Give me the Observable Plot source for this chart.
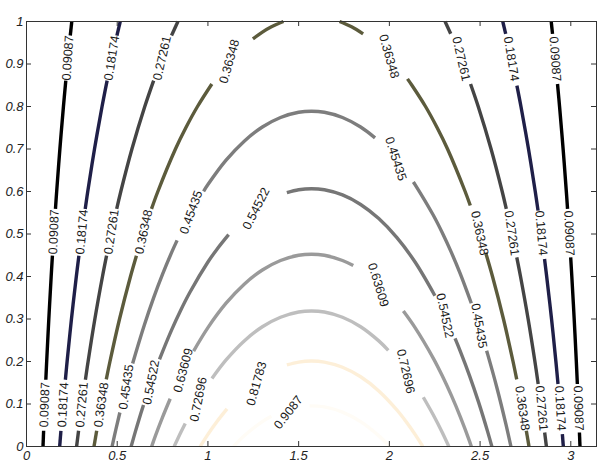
<!DOCTYPE html>
<html><head><meta charset="utf-8">
<script src="https://cdn.jsdelivr.net/npm/d3@7"></script>
<script src="https://cdn.jsdelivr.net/npm/@observablehq/plot@0.6"></script>
<style>html,body{margin:0;padding:0;background:#fff;} svg{display:block}</style>
</head><body><div id="chart"></div>
<script>
// Contour levels (as printed on the chart)
const levelText = ["0.09087","0.18174","0.27261","0.36348","0.45435","0.54522","0.63609","0.72696","0.81783","0.9087"];

// Contour pieces, [x, y] per point; each inner list is one visible piece (gaps hold labels)
const c1 = [
  [[0.0910,0],[0.0944,0.037]],
  [[0.1065,0.157],[0.1112,0.2],[0.1230,0.3],[0.1360,0.4],[0.1429,0.449]],
  [[0.1596,0.559],[0.1663,0.6],[0.1840,0.7],[0.2036,0.8],[0.2166,0.861]],
  [[0.2413,0.967],[0.2496,1]],
  [[2.8920,1],[2.8993,0.971]],
  [[2.9267,0.853],[2.9380,0.8],[2.9576,0.7],[2.9753,0.6],[2.9820,0.559]],
  [[2.9993,0.445],[3.0056,0.4],[3.0186,0.3],[3.0304,0.2],[3.0361,0.147]],
  [[3.0475,0.033],[3.0506,0]]
];
const c2 = [
  [[0.1828,0],[0.1897,0.037]],
  [[0.2143,0.157],[0.2238,0.2],[0.2478,0.3],[0.2746,0.4],[0.2888,0.449]],
  [[0.3236,0.559],[0.3376,0.6],[0.3748,0.7],[0.4164,0.8],[0.4443,0.861]],
  [[0.4983,0.967],[0.5166,1]],
  [[2.6250,1],[2.6411,0.971]],
  [[2.7029,0.849],[2.7252,0.8],[2.7668,0.7],[2.8040,0.6],[2.8194,0.555]],
  [[2.8552,0.441],[2.8670,0.4],[2.8938,0.3],[2.9178,0.2],[2.9295,0.147]],
  [[2.9534,0.029],[2.9588,0]]
];
const c3 = [
  [[0.2761,0],[0.2868,0.037]],
  [[0.3247,0.157],[0.3395,0.2],[0.3768,0.3],[0.4188,0.4],[0.4413,0.449]],
  [[0.4971,0.559],[0.5198,0.6],[0.5811,0.7],[0.6519,0.8],[0.7008,0.861]],
  [[0.7994,0.967],[0.8346,1]],
  [[2.3070,1],[2.3380,0.971]],
  [[2.4474,0.853],[2.4897,0.8],[2.5605,0.7],[2.6218,0.6],[2.6445,0.559]],
  [[2.7022,0.445],[2.7228,0.4],[2.7648,0.3],[2.8021,0.2],[2.8202,0.147]],
  [[2.8560,0.033],[2.8655,0]]
];
const c4 = [
  [[0.3720,0],[0.3868,0.037]],
  [[0.4397,0.158],[0.4600,0.2],[0.5128,0.3],[0.5731,0.4],[0.6059,0.449]],
  [[0.6890,0.559],[0.7240,0.6],[0.8210,0.7],[0.8781,0.75],[0.9424,0.8],[1.0215,0.853]],
  [[1.2480,0.959],[1.3,0.9749],[1.35,0.9874],[1.4161,1]],
  [[1.7255,1],[1.7916,0.9874],[1.8552,0.971]],
  [[2.0998,0.865],[2.1241,0.85],[2.1992,0.8],[2.2635,0.75],[2.3206,0.7],[2.4176,0.6],[2.4460,0.567]],
  [[2.5308,0.456],[2.5685,0.4],[2.6288,0.3],[2.6816,0.2],[2.7019,0.158]],
  [[2.7548,0.037],[2.7696,0]]
];
const c5 = [
  [[0.4717,0],[0.4925,0.04],[0.5146,0.08]],
  [[0.585,0.1951],[0.6,0.2173],[0.65,0.2867],[0.7,0.3492],[0.75,0.4056],[0.8,0.4567],[0.83,0.485]],
  [[0.976,0.6004],[1.0,0.6163],[1.1,0.6737],[1.2,0.7185],[1.3,0.7518],[1.4,0.7742],[1.5,0.7864],[1.5708,0.7889],[1.6416,0.7864],[1.7416,0.7742],[1.8416,0.7518],[1.921,0.7263]],
  [[2.132,0.6225],[2.1416,0.6163],[2.2416,0.5446],[2.2916,0.5029],[2.3416,0.4567],[2.3916,0.4056],[2.4516,0.3371]],
  [[2.536,0.2254],[2.5416,0.2173],[2.5916,0.1401],[2.6416,0.0537],[2.6699,0]]
];
const c6 = [
  [[0.5768,0],[0.6,0.035],[0.62,0.0636],[0.645,0.0978]],
  [[0.733,0.2049],[0.75,0.2233],[0.8,0.2744],[0.85,0.3206],[0.9,0.3623],[1.0,0.4340],[1.05,0.4643],[1.114,0.4985]],
  [[1.435,0.5974],[1.5,0.6041],[1.5708,0.6066],[1.6416,0.6041],[1.7416,0.5919],[1.8416,0.5695],[1.9416,0.5362],[2.0416,0.4914],[2.1416,0.4340],[2.251,0.3548]],
  [[2.362,0.2542],[2.3916,0.2233],[2.4416,0.1669],[2.4916,0.1044],[2.5416,0.035],[2.5648,0]]
];
const c7 = [
  [[0.6901,0],[0.7,0.0127],[0.75,0.0691],[0.792,0.1124]],
  [[0.921,0.2246],[1.0,0.2798],[1.1,0.3372],[1.2,0.3820],[1.3,0.4153],[1.4,0.4377],[1.5,0.4499],[1.5708,0.4524],[1.6416,0.4499],[1.7416,0.4377],[1.801,0.4257]],
  [[2.077,0.3188],[2.1416,0.2798],[2.2416,0.2081],[2.2916,0.1664],[2.3416,0.1202],[2.3916,0.0691],[2.4416,0.0127],[2.4515,0]]
];
const c8 = [
  [[0.8139,0],[0.85,0.0329],[0.875,0.0543]],
  [[1.022,0.1599],[1.1,0.2037],[1.2,0.2485],[1.3,0.2818],[1.4,0.3042],[1.5,0.3164],[1.5708,0.3189],[1.6416,0.3164],[1.7416,0.3042],[1.8416,0.2818],[1.9416,0.2485],[1.994,0.2263]],
  [[2.187,0.1159],[2.2416,0.0746],[2.2916,0.0329],[2.3277,0]]
];
const c9 = [
  [[0.9575,0],[1.0,0.0285],[1.05,0.0588],[1.105,0.0886]],
  [[1.435,0.1919],[1.5,0.1986],[1.5708,0.2011],[1.6416,0.1986],[1.7416,0.1864],[1.8416,0.1640],[1.9416,0.1307],[2.0416,0.0859],[2.0916,0.0588],[2.1416,0.0285],[2.1841,0]]
];
const c10 = [
  [[1.1402,0],[1.2,0.0253],[1.3,0.0586],[1.35,0.0711]],
  [[1.56,0.0956],[1.6416,0.0932],[1.7416,0.0810],[1.8416,0.0586],[1.9416,0.0253],[2.0014,0]]
];

// Inline contour labels: level index, position on the contour
const labelLevel = [0,0,0,0,0,0, 1,1,1,1,1,1, 2,2,2,2,2,2, 3,3,3,3,3,3, 4,4,4,4, 5,5,5, 6,6, 7,7, 8, 9];
const labelX = [0.1004,0.1511,0.2286,3.0420,2.9909,2.9134,
                0.2018,0.3059,0.4705,2.9414,2.8367,2.6721,
                0.3054,0.4688,0.7478,2.8387,2.6743,2.3955,
                0.4125,0.6465,1.1184,2.7326,2.4974,1.9977,
                0.55,0.908,2.035,2.494,
                0.687,1.266,2.306,
                0.864,1.939,
                0.948,2.09,
                1.268,
                1.443];
const labelY = [0.098,0.505,0.914,0.09,0.502,0.912,
                0.098,0.505,0.914,0.09,0.502,0.912,
                0.098,0.505,0.914,0.09,0.502,0.912,
                0.098,0.505,0.906,0.09,0.502,0.918,
                0.140,0.551,0.677,0.284,
                0.151,0.56,0.308,
                0.179,0.38,
                0.111,0.177,
                0.148,
                0.08];

const xTicks = [0,0.5,1,1.5,2,2.5,3];
const yTicks = [0,0.1,0.2,0.3,0.4,0.5,0.6,0.7,0.8,0.9,1];

// ---- styles ----
const lineColors = ["#000000","#1f1f48","#444444","#5c5b3c","#7d7d7d","#767676","#9a9a9a","#bebebe","#fdefd8","#fffcf6"];
const labelRotate = [-88,-88,-86,88,88,86,
                     -87,-85,-81,87,85,81,
                     -85,-82,-77,85,82,77,
                     -82,-78,-74,82,78,74,
                     -82,-70,72,80,
                     -79,-63,78,
                     -75,73,
                     -79,77,
                     -74,
                     -52];
const font = '"Liberation Sans",Arial,sans-serif';
const fmt = d3.format("~g");

const contours = [c1,c2,c3,c4,c5,c6,c7,c8,c9,c10];
const rows = [];
contours.forEach((segs, li) => segs.forEach((seg, si) => seg.forEach(([x, y]) =>
  rows.push({level: levelText[li], seg: li * 100 + si, x, y}))));
const labels = labelLevel.map((l, i) => ({text: levelText[l], x: labelX[i], y: labelY[i], r: labelRotate[i]}));

const plot = Plot.plot({
  width: 598, height: 464,
  marginLeft: 26, marginRight: 2, marginTop: 21, marginBottom: 18,
  x: {domain: [0, 3.1416], label: null},
  y: {domain: [0, 1], label: null},
  color: {type: "ordinal", domain: levelText, range: lineColors},
  style: {fontFamily: font, background: "#fff", color: "#222"},
  marks: [
    Plot.line(rows, {x: "x", y: "y", z: "seg", stroke: "level", strokeWidth: 3.4, curve: "catmull-rom", strokeLinecap: "butt"}),
    Plot.text(labels, {x: "x", y: "y", text: "text", rotate: "r", fontSize: 12.5, fill: "#1a1a1a"}),
    Plot.frame({stroke: "#333"}),
    // inward ticks on all four sides
    Plot.tickX(xTicks, {x: d => d, insetTop: 420, stroke: "#333"}),
    Plot.tickX(xTicks, {x: d => d, insetBottom: 420, stroke: "#333"}),
    Plot.tickY(yTicks, {y: d => d, insetRight: 565, stroke: "#333"}),
    Plot.tickY(yTicks, {y: d => d, insetLeft: 565, stroke: "#333"}),
    Plot.axisX({ticks: xTicks, tickSize: 0, tickPadding: 4, tickFormat: fmt, fontSize: 13, fontStyle: "italic", label: null, fill: "#222"}),
    Plot.axisY({ticks: yTicks, tickSize: 0, tickPadding: 3, tickFormat: fmt, fontSize: 13, fontStyle: "italic", label: null, fill: "#222"})
  ]
});
document.getElementById("chart").appendChild(plot);
</script>
</body></html>
